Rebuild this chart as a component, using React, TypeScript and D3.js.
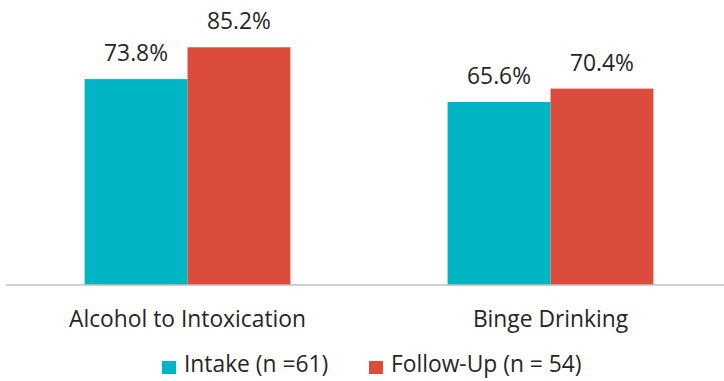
import React from 'react';
import * as d3 from 'd3';

const W = 724;
const H = 381;

const categories = ['Alcohol to Intoxication', 'Binge Drinking'];
const seriesNames = ['Intake (n =61)', 'Follow-Up (n = 54)'];
const intake = [73.8, 65.6];
const followUp = [85.2, 70.4];
const colors = ['#00B5C3', '#DC4C3C'];

const FONT = "'Open Sans', sans-serif";
const FS = 22.8;
const BASE_Y = 285;

export default function App() {
  const x0 = d3.scaleBand<string>().domain(categories).range([6, 732]).paddingInner(0.433).paddingOuter(0.2165);
  const x1 = d3.scaleBand<string>().domain(seriesNames).range([0, x0.bandwidth()]);
  const y = d3.scaleLinear().domain([0, 100]).range([BASE_Y, 6]);
  const series = [intake, followUp];

  const legendX = [162, 369];

  return (
    <svg width={W} height={H} style={{ position: 'absolute', left: 0, top: 0, background: '#fff' }}>
      {categories.map((c, i) => (
        <g key={c}>
          {seriesNames.map((s, j) => {
            const v = series[j][i];
            const bx = (x0(c) ?? 0) + (x1(s) ?? 0);
            return (
              <g key={s}>
                <rect x={bx} y={y(v)} width={x1.bandwidth()} height={BASE_Y - y(v)} fill={colors[j]} />
                <text x={bx + x1.bandwidth() / 2} y={y(v) - 18} textAnchor="middle" fontFamily={FONT} fontSize={FS} fill="#262626">
                  {v.toFixed(1)}%
                </text>
              </g>
            );
          })}
          <text x={(x0(c) ?? 0) + x0.bandwidth() / 2} y={327} textAnchor="middle" fontFamily={FONT} fontSize={FS} fill="#262626">
            {c}
          </text>
        </g>
      ))}
      <line x1={6} x2={W} y1={BASE_Y} y2={BASE_Y} stroke="#BFBFBF" strokeWidth={1.3} />
      {seriesNames.map((s, j) => (
        <g key={s} transform={`translate(${legendX[j]},0)`}>
          <rect x={0} y={361} width={14} height={13} fill={colors[j]} />
          <text x={22} y={372} fontFamily={FONT} fontSize={FS} fill="#262626">
            {s}
          </text>
        </g>
      ))}
    </svg>
  );
}
